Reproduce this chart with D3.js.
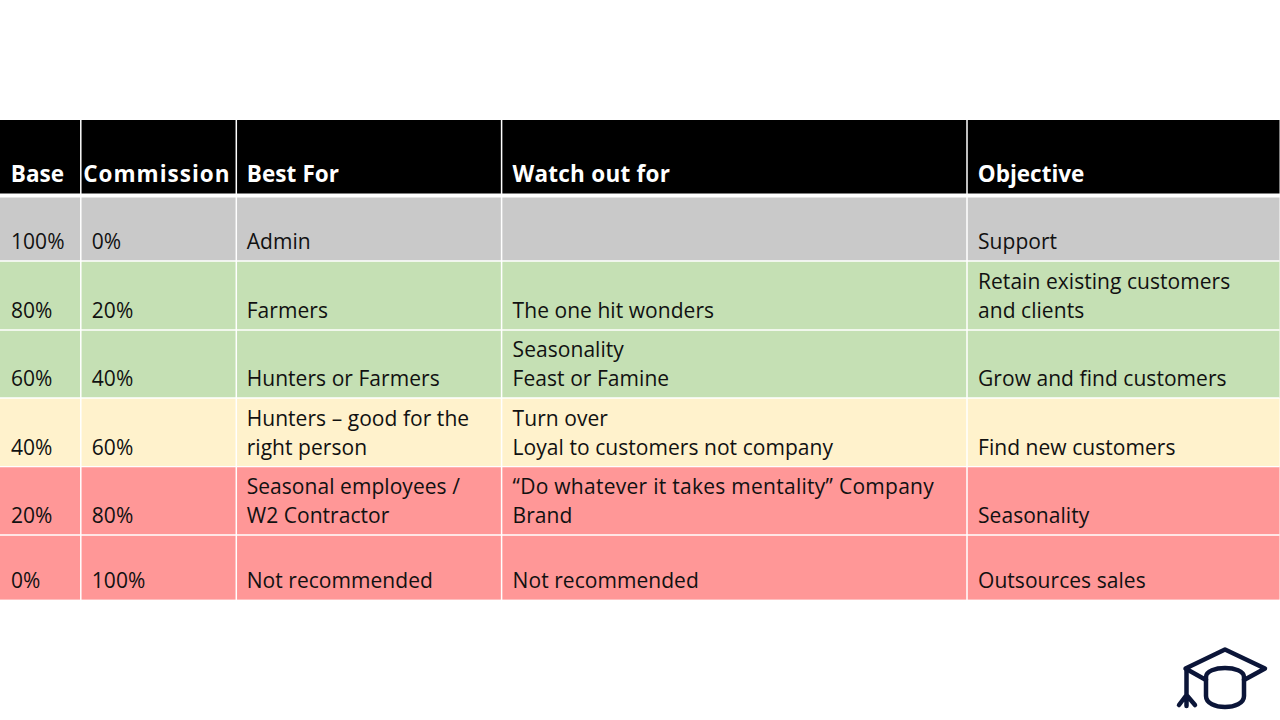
<!DOCTYPE html>
<html><head><meta charset="utf-8">
<script src="https://cdn.jsdelivr.net/npm/d3@7"></script>
<style>html,body{margin:0;padding:0;background:#fff}svg{display:block}</style>
</head><body><svg id="c" width="1280" height="720"></svg>
<script>
const columns = ["Base","Commission","Best For","Watch out for","Objective"];
const base = ["100%","80%","60%","40%","20%","0%"];
const commission = ["0%","20%","40%","60%","80%","100%"];
const bestFor = [["Admin"],["Farmers"],["Hunters or Farmers"],["Hunters – good for the","right person"],["Seasonal employees /","W2 Contractor"],["Not recommended"]];
const watchOut = [[],["The one hit wonders"],["Seasonality","Feast or Famine"],["Turn over","Loyal to customers not company"],["“Do whatever it takes mentality” Company","Brand"],["Not recommended"]];
const objective = [["Support"],["Retain existing customers","and clients"],["Grow and find customers"],["Find new customers"],["Seasonality"],["Outsources sales"]];
const rowColors = ["#c9c9c9","#c5e0b4","#c5e0b4","#fff2cc","#ff9797","#ff9797"];

const colEdges = [0,80.8,236.3,501.6,967,1279.5];
const rowEdges = [197.5,261,330,398,466.7,535,599.6];
const FONT = "'Open Sans','Noto Sans',sans-serif", SIZE = 21, LINE = 29, PAD = 11;

const svg = d3.select("#c");
const bx = i => colEdges[i];

// header
svg.append("rect").attr("x",0).attr("y",120).attr("width",1279.5).attr("height",73.5).attr("fill","#000");
const headerSpacing = {"Commission":1.0,"Watch out for":0.25,"Best For":0.1};
svg.selectAll("text.h").data(columns).join("text").attr("class","h")
  .attr("x",(d,i)=>bx(i)+(i===1?2.4:i===2?10.4:PAD-0.2)).attr("y",182)
  .attr("font-family",FONT).attr("font-size",22.5).attr("font-weight",700).attr("fill","#fff")
  .attr("letter-spacing",d=>headerSpacing[d]||0).text(d=>d);

// rows
svg.selectAll("rect.r").data(rowColors).join("rect").attr("class","r")
  .attr("x",0).attr("width",1279.5).attr("y",(d,i)=>rowEdges[i]).attr("height",(d,i)=>rowEdges[i+1]-rowEdges[i]).attr("fill",d=>d);

const cols = [base.map(d=>[d]),commission.map(d=>[d]),bestFor,watchOut,objective];
cols.forEach((col,c)=>{
  col.forEach((lines,r)=>{
    const bottom = rowEdges[r+1]-11.6;
    svg.append("g").selectAll("text").data(lines).join("text")
      .attr("x",bx(c)+PAD-(c===2?0.6:0)).attr("y",(d,i)=>bottom-(lines.length-1-i)*LINE)
      .attr("font-family",FONT).attr("font-size",SIZE).attr("fill","#111")
      .attr("letter-spacing",d=>d.startsWith("“Do")?0.27:0.05).text(d=>d);
  });
});

// grid lines
svg.selectAll("line.v").data(colEdges.slice(1,-1)).join("line").attr("class","v")
  .attr("x1",d=>d).attr("x2",d=>d).attr("y1",120).attr("y2",600).attr("stroke","#fff").attr("stroke-width",1.5);
svg.selectAll("line.hz").data(rowEdges.slice(1,-1)).join("line").attr("class","hz")
  .attr("x1",0).attr("x2",1279.5).attr("y1",d=>d).attr("y2",d=>d).attr("stroke","#fff").attr("stroke-width",1.3);

// cap icon
const cap = svg.append("g").attr("fill","none").attr("stroke","#0b1538").attr("stroke-width",4.5).attr("stroke-linecap","round").attr("stroke-linejoin","round");
cap.append("path").attr("d","M1206 680 L1185.5 668.5 L1225 649.5 L1265 668.5 L1244 680");
cap.append("path").attr("d","M1206 677 C1206 665 1244 665 1244 677 L1244 696 C1244 710.7 1206 710.7 1206 696 Z");
cap.append("path").attr("d","M1186.5 669 L1186.5 706 M1186.5 695 L1179 705 M1186.5 695 L1195 705");
</script></body></html>
